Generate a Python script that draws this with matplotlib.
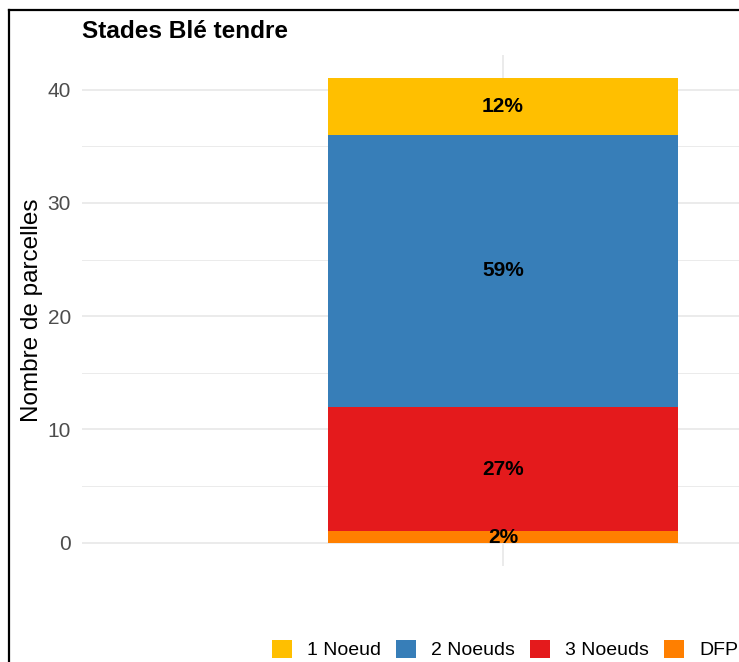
import matplotlib
matplotlib.use("Agg")
import matplotlib.pyplot as plt
from matplotlib.patches import Patch
from matplotlib.lines import Line2D

plt.rcParams['font.family'] = ['Liberation Sans', 'DejaVu Sans']

categories = ["DFP", "3 Noeuds", "2 Noeuds", "1 Noeud"]
counts = [1, 11, 24, 5]
colors = ["#FF7F00", "#E41A1C", "#377EB8", "#FFBF00"]
legend_order = ["1 Noeud", "2 Noeuds", "3 Noeuds", "DFP"]
yticks = [0, 10, 20, 30, 40]

W, H = 739, 662
fig = plt.figure(figsize=(W / 100, H / 100), dpi=100)

# axes: panel extends beyond right edge (cropped screenshot)
left_px, right_px, top_px, bot_px = 82, 924, 55, 566
ax = fig.add_axes([left_px / W, 1 - bot_px / H, (right_px - left_px) / W, (bot_px - top_px) / H])
total = sum(counts)
ax.set_xlim(0.4, 1.6)
ax.set_ylim(-0.05 * total, total * 1.05)

bottom = 0
for cat, v, c in zip(categories, counts, colors):
    ax.bar(1, v, bottom=bottom, width=0.5, color=c, zorder=3)
    pct = round(100 * v / total)
    ax.text(1, bottom + v / 2, f"{pct}%", ha="center", va="center",
            fontsize=15, fontweight="bold", color="black", zorder=4)
    bottom += v

for s in ax.spines.values():
    s.set_visible(False)
ax.set_yticks(yticks)
ax.set_yticks([5, 15, 25, 35], minor=True)
ax.set_xticks([1])
ax.set_xticklabels([""])
ax.tick_params(axis="both", which="both", length=0)
ax.tick_params(axis="y", labelsize=15, labelcolor="#4D4D4D", pad=8)
ax.grid(True, which="major", color="#EBEBEB", linewidth=1.4, zorder=0)
ax.grid(True, which="minor", axis="y", color="#EBEBEB", linewidth=0.7, zorder=0)
ax.set_ylabel("Nombre de parcelles", fontsize=17.5)
ax.yaxis.set_label_coords((43 - left_px) / (right_px - left_px), 0.5)

fig.text(82 / W, 1 - 31 / H, "Stades Blé tendre", fontsize=17.6, fontweight="bold",
         ha="left", va="center")

handles = [Patch(facecolor=colors[categories.index(n)], edgecolor="none") for n in legend_order]
fig.legend(handles, legend_order, loc="lower left", bbox_to_anchor=(266 / W, -0.005),
           ncol=4, frameon=False, fontsize=14, handlelength=1.05, handleheight=1.05,
           handletextpad=0.77, columnspacing=0.75, borderaxespad=0, borderpad=0.3)

# black frame (left and top, visible part)
fig.add_artist(Line2D([8.5 / W, 8.5 / W], [0, 1 - 10 / H], transform=fig.transFigure, color="black", linewidth=1.6))
fig.add_artist(Line2D([8.5 / W, 1], [1 - 10 / H, 1 - 10 / H], transform=fig.transFigure, color="black", linewidth=1.6))

fig.savefig("out.png", dpi=100)
